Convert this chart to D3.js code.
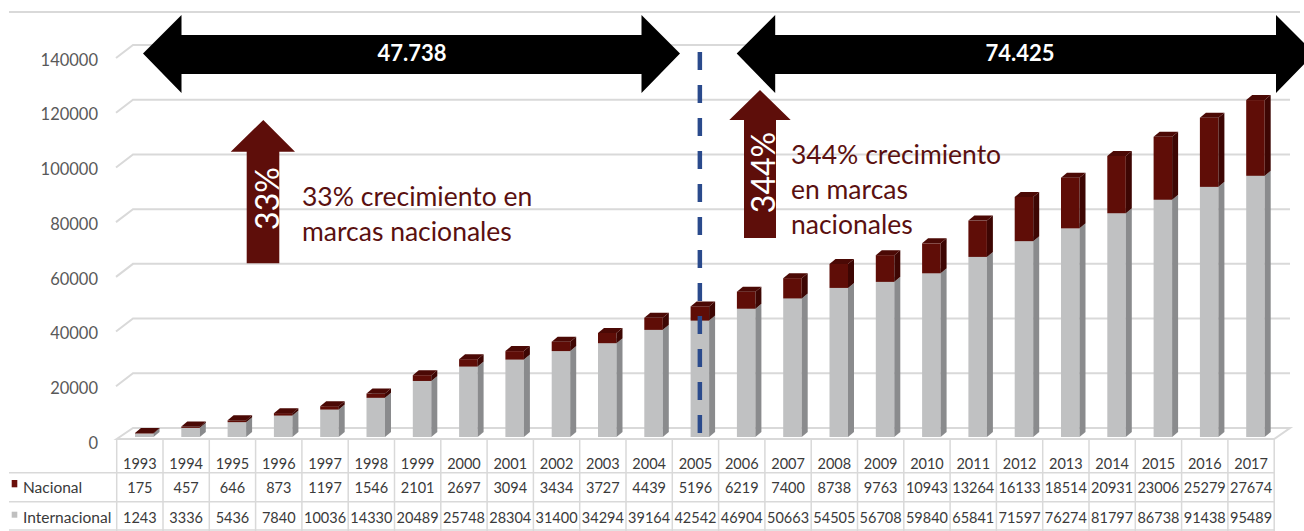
<!DOCTYPE html>
<html><head><meta charset="utf-8">
<script src="https://cdn.jsdelivr.net/npm/d3@7"></script>
<style>body{margin:0;background:#fff}svg{display:block}text{font-family:Lato,"Noto Sans",sans-serif}</style>
</head><body><svg id="c" width="1304" height="531"></svg>
<script>
const years = ["1993","1994","1995","1996","1997","1998","1999","2000","2001","2002","2003","2004","2005","2006","2007","2008","2009","2010","2011","2012","2013","2014","2015","2016","2017"];
const nacional = [175,457,646,873,1197,1546,2101,2697,3094,3434,3727,4439,5196,6219,7400,8738,9763,10943,13264,16133,18514,20931,23006,25279,27674];
const internacional = [1243,3336,5436,7840,10036,14330,20489,25748,28304,31400,34294,39164,42542,46904,50663,54505,56708,59840,65841,71597,76274,81797,86738,91438,95489];
const yTicks = [0,20000,40000,60000,80000,100000,120000,140000];
const seriesNames = ["Nacional","Internacional"];
const leftTotal = "47.738", rightTotal = "74.425";
const leftPct = "33%", rightPct = "344%";

const svg = d3.select("#c");
const C = {red:"#5f0d07", redSide:"#3d0603", redTop:"#4b0905", grey:"#c0c1c2", greySide:"#8a8b8d", greyTop:"#a8a9aa", grid:"#d9d9d9", txt:"#3a3a3a", maroon:"#5e0e0a"};
const y = d3.scaleLinear().domain([0,140000]).range([428,45]);
const x = d3.scaleBand().domain(years).range([116.7,1274.2]).padding(0);
const DY = 13;
const BO = 9;
const bw = 18.5, bx = 18.3, sdx = 6, sdy = 5;

svg.append("line").attr("x1",9).attr("x2",1300).attr("y1",12).attr("y2",12).attr("stroke",C.grid).attr("stroke-width",2);

const g = svg.append("g");
yTicks.forEach(t=>{
  const yb = y(t);
  if (t>0) {
    g.append("path").attr("d",`M116,${yb+DY}L133,${yb}L1290,${yb}`).attr("fill","none").attr("stroke",C.grid).attr("stroke-width",2);
  }
  g.append("text").attr("x",98).attr("y",yb+15).attr("dy","0.35em").attr("text-anchor","end")
    .attr("font-size",16.5).attr("fill","#595959").text(t);
});
g.append("path").attr("d",`M116.7,${y(0)+11}L133,${y(0)}L1290,${y(0)}L1274.2,${y(0)+11}Z`).attr("fill","#fff").attr("stroke",C.grid).attr("stroke-width",2);

const bars = svg.append("g");
function box(x0, yt, yb, f, s, t){
  bars.append("rect").attr("x",x0).attr("y",yt).attr("width",bw).attr("height",Math.max(0,yb-yt)).attr("fill",f);
  bars.append("path").attr("d",`M${x0+bw},${yt}L${x0+bw+sdx},${yt-sdy}L${x0+bw+sdx},${yb-sdy}L${x0+bw},${yb}Z`).attr("fill",s);
  bars.append("path").attr("d",`M${x0},${yt}L${x0+bw},${yt}L${x0+bw+sdx},${yt-sdy}L${x0+sdx},${yt-sdy}Z`).attr("fill",t);
}
years.forEach((yr,i)=>{
  const x0 = x(yr)+bx;
  const y0 = y(0)+BO, y1 = y(internacional[i])+BO, y2 = y(internacional[i]+nacional[i])+BO;
  box(x0,y1,y0,C.grey,C.greySide,C.greyTop);
  box(x0,y2,y1,C.red,C.redSide,C.redTop);
});

const tb = svg.append("g");
const rowsY = [472.7,501.7,530];
rowsY.forEach(r=>tb.append("line").attr("x1",9).attr("x2",1274.2).attr("y1",r).attr("y2",r).attr("stroke",C.grid).attr("stroke-width",1.5));
years.concat(["end"]).forEach((yr,i)=>{
  const xx = 116.7 + i*x.step();
  tb.append("line").attr("x1",xx).attr("x2",xx).attr("y1",439).attr("y2",531).attr("stroke",C.grid).attr("stroke-width",1.5);
});
years.forEach((yr,i)=>{
  const cx = x(yr)+x.bandwidth()/2;
  tb.append("text").attr("x",cx).attr("y",468.5).attr("text-anchor","middle").attr("font-size",14.5).attr("fill",C.txt).text(yr);
  tb.append("text").attr("x",cx).attr("y",493.3).attr("text-anchor","middle").attr("font-size",14.5).attr("fill",C.txt).text(nacional[i]);
  tb.append("text").attr("x",cx).attr("y",522.7).attr("text-anchor","middle").attr("font-size",14.5).attr("fill",C.txt).text(internacional[i]);
});
tb.append("rect").attr("x",11.7).attr("y",480).attr("width",5.6).attr("height",7.3).attr("fill","#6a0f0a");
tb.append("text").attr("x",23).attr("y",493.3).attr("font-size",15.5).attr("fill",C.txt).text(seriesNames[0]);
tb.append("rect").attr("x",11.7).attr("y",511.7).attr("width",5.6).attr("height",6).attr("fill","#c0c0c0");
tb.append("text").attr("x",23).attr("y",522.7).attr("font-size",15.5).attr("fill",C.txt).text(seriesNames[1]);

const dX = x("2005")+bx+bw/2;
svg.append("line").attr("x1",dX).attr("x2",dX).attr("y1",52).attr("y2",437).attr("stroke","#2a4a8c").attr("stroke-width",4.5).attr("stroke-dasharray","18,15");

const ann = svg.append("g");
function dbl(xl, xr, label){
  const hw = 38.5, cy = 53.5, st = 35, sb = 74, ht = 15, hb = 93;
  ann.append("path").attr("d",`M${xl},${cy}L${xl+hw},${ht}L${xl+hw},${st}L${xr-hw},${st}L${xr-hw},${ht}L${xr},${cy}L${xr-hw},${hb}L${xr-hw},${sb}L${xl+hw},${sb}L${xl+hw},${hb}Z`).attr("fill","#000");
  ann.append("text").attr("x",label[1]).attr("y",cy).attr("dy","0.35em").attr("text-anchor","middle").attr("font-size",22).attr("font-weight","bold").attr("fill","#fff").text(label[0]);
}
dbl(143,680,[leftTotal,412]);
dbl(736.7,1314.5,[rightTotal,1020]);

function up(tipX, tipY, headY, hl, hr, sl, sr, bot, txt, tx, ty){
  ann.append("path").attr("d",`M${tipX},${tipY}L${hr},${headY}L${sr},${headY}L${sr},${bot}L${sl},${bot}L${sl},${headY}L${hl},${headY}Z`).attr("fill",C.maroon);
  ann.append("text").attr("transform",`translate(${tx},${ty}) rotate(-90)`).attr("text-anchor","middle").attr("font-size",32).attr("fill","#fff").text(txt);
}
up(263.3,120,151.7,230.7,295,246.7,279.3,263.3,leftPct,279,198.5);
up(760,90,120,729.3,790.7,744,776,238,rightPct,775,172.5);

const lab = svg.append("g").attr("font-size",26.5).attr("fill","#5a1010");
lab.append("text").attr("x",302).attr("y",206).text("33% crecimiento en");
lab.append("text").attr("x",302).attr("y",241).text("marcas nacionales");
lab.append("text").attr("x",791).attr("y",164).text("344% crecimiento");
lab.append("text").attr("x",791).attr("y",199).text("en marcas");
lab.append("text").attr("x",791).attr("y",234).text("nacionales");
</script></body></html>
